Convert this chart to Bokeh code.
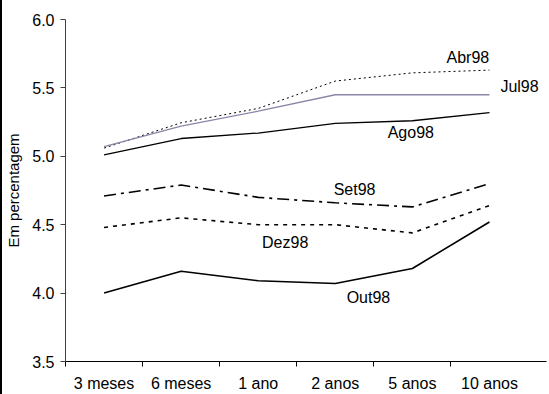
from bokeh.plotting import figure
from bokeh.models import Range1d, FixedTicker, NumeralTickFormatter
from bokeh.core.properties import value
from bokeh.embed import file_html
from bokeh.resources import INLINE

categories = ["3 meses", "6 meses", "1 ano", "2 anos", "5 anos", "10 anos"]

abr98 = [5.06, 5.245, 5.35, 5.55, 5.61, 5.63]
jul98 = [5.07, 5.22, 5.33, 5.45, 5.45, 5.45]
ago98 = [5.01, 5.13, 5.17, 5.24, 5.26, 5.32]
set98 = [4.71, 4.79, 4.70, 4.66, 4.63, 4.80]
dez98 = [4.48, 4.55, 4.50, 4.50, 4.44, 4.64]
out98 = [4.00, 4.16, 4.09, 4.07, 4.18, 4.52]

series_names = ["Abr98", "Jul98", "Ago98", "Set98", "Dez98", "Out98"]
label_x = [5.22, 5.89, 4.48, 3.75, 2.85, 3.93]
label_y = [5.72, 5.51, 5.175, 4.755, 4.37, 3.97]

y_ticks = [3.5, 4.0, 4.5, 5.0, 5.5, 6.0]

FONT = "Liberation Sans"

p = figure(width=547, height=394, output_backend="svg", toolbar_location=None,
           x_range=Range1d(0, 6.24), y_range=Range1d(3.5, 6.0),
           min_border_left=60, min_border_right=3, min_border_top=19, min_border_bottom=33)
p.styles = {"border-left": "2px solid black"}
p.grid.visible = False
p.outline_line_color = None
p.background_fill_color = "white"
p.border_fill_color = "white"

xs = [i + 0.5 for i in range(len(categories))]
bounds = [float(i) for i in range(len(categories))]

styles = [
    dict(line_color="black", line_width=1, line_dash="2 3"),
    dict(line_color="#8a86a8", line_width=1.3, line_dash="solid"),
    dict(line_color="black", line_width=1.3, line_dash="solid"),
    dict(line_color="black", line_width=1.6, line_dash="12 5 3 5"),
    dict(line_color="black", line_width=1.6, line_dash="4 5"),
    dict(line_color="black", line_width=1.6, line_dash="solid"),
]
for ys, st in zip([abr98, jul98, ago98, set98, dez98, out98], styles):
    p.line(xs, ys, **st)

p.text(x=label_x, y=label_y, text=series_names, text_font=value(FONT), text_font_size="16px",
       text_align="center", text_baseline="middle", text_color="black")

# x axis: labels at centres, tick marks at category boundaries
xa = p.xaxis[0]
xa.ticker = FixedTicker(ticks=xs, minor_ticks=bounds)
xa.major_label_overrides = {x: c for x, c in zip(xs, categories)}
xa.major_tick_line_color = None
xa.minor_tick_line_color = "black"
xa.minor_tick_out = 5
xa.minor_tick_in = 0
xa.axis_line_color = "black"
xa.axis_line_width = 1.2
xa.major_label_text_font = FONT
xa.major_label_text_font_size = "16px"
xa.major_label_text_color = "black"
xa.major_label_standoff = 7

ya = p.yaxis[0]
ya.ticker = FixedTicker(ticks=y_ticks)
ya.formatter = NumeralTickFormatter(format="0.0")
ya.axis_line_color = "#404040"
ya.major_tick_line_color = "#404040"
ya.major_tick_out = 5
ya.major_tick_in = 0
ya.minor_tick_line_color = None
ya.major_label_text_font = FONT
ya.major_label_text_font_size = "16px"
ya.major_label_text_color = "black"
ya.major_label_standoff = 6
ya.axis_label = "Em percentagem"
ya.axis_label_text_font = FONT
ya.axis_label_text_font_size = "15px"
ya.axis_label_text_font_style = "normal"
ya.axis_label_text_color = "black"
ya.axis_label_standoff = 7

open("out.html", "w").write(file_html(p, INLINE))
